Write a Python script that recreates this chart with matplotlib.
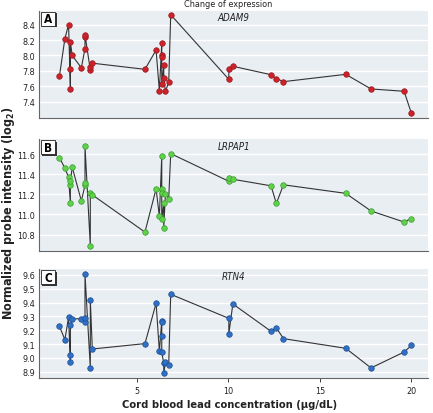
import matplotlib
matplotlib.use("Agg")
import matplotlib.pyplot as plt
from matplotlib.patches import Rectangle

plt.rcParams['font.family'] = ['Liberation Sans Narrow', 'DejaVu Sans']
plt.rcParams['font.stretch'] = 'condensed'

# ---- data (cord blood lead, µg/dL) in path order ----
lead = [0.75, 1.05, 1.25, 1.35, 1.35, 1.35, 1.45, 1.95, 2.15, 2.15, 2.15, 2.44, 2.44, 2.55,
        5.43, 6.04, 6.22, 6.35, 6.35, 6.35, 6.35, 6.46, 6.46, 6.55, 6.73, 6.84,
        10.02, 10.02, 10.24, 12.33, 12.62, 13.01, 16.42, 17.80, 19.61, 20.01]

adam9 = [7.73, 8.22, 8.40, 7.57, 7.83, 8.17, 8.00, 7.84, 8.09, 8.24, 8.27, 7.81, 7.85, 7.90,
         7.82, 8.07, 7.54, 8.16, 8.01, 7.98, 7.63, 7.87, 7.71, 7.535, 7.65, 8.53,
         7.69, 7.83, 7.86, 7.75, 7.70, 7.66, 7.755, 7.565, 7.535, 7.25]

lrpap1 = [11.565, 11.46, 11.37, 11.11, 11.29, 11.33, 11.47, 11.135, 11.29, 11.315, 11.68, 10.69, 11.21, 11.195,
          10.825, 11.255, 10.98, 11.58, 11.25, 11.215, 10.955, 11.11, 10.87, 11.205, 11.155, 11.605,
          11.33, 11.36, 11.35, 11.285, 11.11, 11.295, 11.21, 11.035, 10.925, 10.96]

rtn4 = [9.228, 9.132, 9.294, 8.97, 9.021, 9.236, 9.281, 9.284, 9.257, 9.289, 9.605, 8.927, 9.419, 9.064,
        9.103, 9.395, 9.047, 9.269, 9.26, 9.156, 9.04, 8.96, 8.888, 8.97, 8.948, 9.46,
        9.286, 9.173, 9.39, 9.192, 9.218, 9.139, 9.069, 8.927, 9.042, 9.09]

genes = ['ADAM9', 'LRPAP1', 'RTN4']
letters = ['A', 'B', 'C']
series = [adam9, lrpap1, rtn4]
yticks = [[7.4, 7.6, 7.8, 8.0, 8.2, 8.4],
          [10.8, 11.0, 11.2, 11.4, 11.6],
          [8.9, 9.0, 9.1, 9.2, 9.3, 9.4, 9.5, 9.6]]
xticks = [5, 10, 15, 20]

# ---- styling ----
face = ['#cc2229', '#5fd24a', '#2f6fc4']
edge = ['#9a1a20', '#3c9a30', '#1f4f94']
ylims = [(7.188, 8.582), (10.64, 11.75), (8.854, 9.643)]
pos = [(0.0908, 0.7126, 0.8977, 0.2592),
       (0.0908, 0.392, 0.8977, 0.2698),
       (0.0908, 0.0845, 0.8977, 0.2633)]
W, H = 433, 414

fig = plt.figure(figsize=(W / 100, H / 100), dpi=100)
for i in range(3):
    ax = fig.add_axes(pos[i])
    ax.set_facecolor('#e9eef3')
    ax.plot(lead, series[i], '-', color='#333333', lw=0.8, zorder=2)
    ax.plot(lead, series[i], 'o', ms=4.0, mfc=face[i], mec=edge[i], mew=0.5, zorder=3)
    ax.set_xlim(-0.35, 20.92)
    ax.set_ylim(*ylims[i])
    ax.set_yticks(yticks[i])
    ax.set_yticklabels([f'{v:.1f}' for v in yticks[i]])
    ax.grid(axis='y', color='white', lw=1.0, zorder=0)
    ax.set_axisbelow(True)
    for s in ['top', 'right']:
        ax.spines[s].set_visible(False)
    for s in ['left', 'bottom']:
        ax.spines[s].set_color('#666666')
        ax.spines[s].set_linewidth(0.8)
    ax.tick_params(axis='y', length=0, labelsize=6.5, pad=3, colors='#222222')
    if i < 2:
        ax.set_xticks([])
    else:
        ax.set_xticks(xticks)
        ax.tick_params(axis='x', length=3, width=0.6, labelsize=6.5, colors='#222222', pad=3)
    ax.text(0.5, 0.94, genes[i], transform=ax.transAxes, ha='center', va='center',
            fontsize=7, style='italic', color='#222222')
    # panel letter box with shadow
    aw, ah = pos[i][2] * W, pos[i][3] * H
    bx, by, bw, bh = 1.4 / aw, 1 - (1.0 + 14) / ah, 14.5 / aw, 14 / ah
    sx, sy = 1.6 / aw, 1.6 / ah
    ax.add_patch(Rectangle((bx + sx, by - sy), bw, bh, transform=ax.transAxes,
                           fc='#333333', ec='none', zorder=5, clip_on=False))
    ax.add_patch(Rectangle((bx, by), bw, bh, transform=ax.transAxes,
                           fc='white', ec='#222222', lw=0.6, zorder=6, clip_on=False))
    ax.text(bx + bw / 2, by + bh / 2, letters[i], transform=ax.transAxes, ha='center', va='center',
            fontsize=8.5, fontweight='bold', color='black', zorder=7)

fig.text(0.527, 0.988, 'Change of expression', ha='center', va='center', fontsize=6.5, color='#222222')
fig.text(0.53, 0.022, 'Cord blood lead concentration (µg/dL)', ha='center', va='center',
         fontsize=8, fontweight='bold', color='#222222')
fig.text(0.02, 0.485, 'Normalized probe intensity (log$_\\mathbf{2}$)', ha='center', va='center',
         rotation=90, fontsize=9, fontweight='bold', color='#222222')

fig.savefig('out.png', dpi=100)
